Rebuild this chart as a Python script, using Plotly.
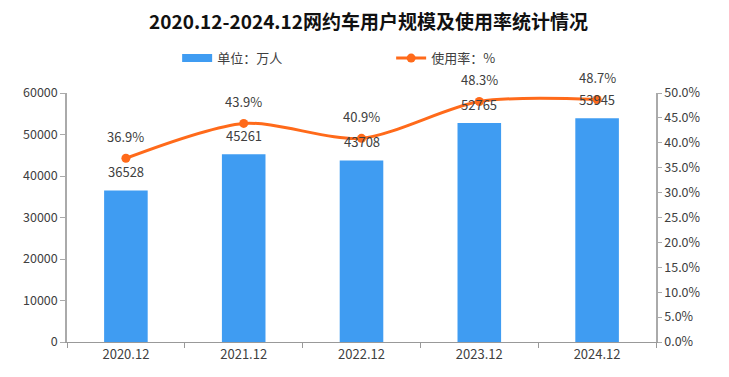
import plotly.graph_objects as go

categories = ["2020.12", "2021.12", "2022.12", "2023.12", "2024.12"]
users = [36528, 45261, 43708, 52765, 53945]
rate = [0.369, 0.439, 0.409, 0.483, 0.487]

FONT = "Noto Sans CJK SC"
BLUE = "#3F9CF2"
ORANGE = "#FF6A1A"
TXT = "#404040"

fig = go.Figure()
fig.add_trace(go.Bar(x=categories, y=users, name="单位：万人", marker=dict(color=BLUE, line=dict(width=0)),
                     width=0.37, yaxis="y", showlegend=False))
# legend-only entry drawn as a wide rectangle swatch
fig.add_trace(go.Scatter(x=[None], y=[None], name="单位：万人", mode="lines",
                         line=dict(color=BLUE, width=8), yaxis="y", hoverinfo="skip"))
fig.add_trace(go.Scatter(x=categories, y=rate, name="使用率：%", mode="lines+markers", yaxis="y2",
                         line=dict(color=ORANGE, width=3, shape="spline", smoothing=0.8),
                         marker=dict(color=ORANGE, size=9)))

ann = []
for i, u in enumerate(users):
    ann.append(dict(x=i, y=u, xref="x", yref="y", text=str(u), showarrow=False, yshift=19,
                    font=dict(size=13, color=TXT, family=FONT)))
for i, r in enumerate(rate):
    ann.append(dict(x=i, y=r, xref="x", yref="y2", text=f"{r*100:.1f}%", showarrow=False, yshift=22,
                    font=dict(size=13, color=TXT, family=FONT)))

# page body adds an 8px offset; figure is sized/margined to compensate
fig.update_layout(
    width=721, height=369,
    margin=dict(l=59, r=73, t=85, b=35),
    paper_bgcolor="white", plot_bgcolor="white",
    font=dict(family=FONT, size=12, color=TXT),
    title=dict(text="<b>2020.12-2024.12网约车用户规模及使用率统计情况</b>", x=0.5, xanchor="center",
               y=0.962, yanchor="middle", font=dict(size=19, color="#111111", family=FONT)),
    showlegend=True,
    legend=dict(orientation="h", x=0.187, xanchor="left", y=1.14, yanchor="middle",
                font=dict(size=13, color=TXT), itemwidth=30, tracegroupgap=0,
                entrywidthmode="pixels", entrywidth=169),
    xaxis=dict(type="category", range=[-0.5, 4.5], showline=True, linecolor="#999999", linewidth=1,
               ticks="outside", tickson="boundaries", ticklen=5, tickcolor="#999999", showgrid=False,
               tickfont=dict(size=13, color=TXT), tickangle=0),
    yaxis=dict(range=[0, 60000], dtick=10000, tickformat="d", showline=True, linecolor="#AAAAAA", linewidth=1.5,
               ticks="outside", ticklen=5, tickcolor="#AAAAAA", showgrid=False, zeroline=False,
               tickfont=dict(size=12.5, color=TXT)),
    yaxis2=dict(range=[0, 0.5], dtick=0.05, tickformat=".1%", overlaying="y", side="right",
                showline=True, linecolor="#AAAAAA", linewidth=1.5, ticks="outside", ticklen=4,
                tickcolor="#AAAAAA", showgrid=False, zeroline=False, tickfont=dict(size=12.5, color=TXT)),
    annotations=ann,
)
fig.write_html("out.html")
